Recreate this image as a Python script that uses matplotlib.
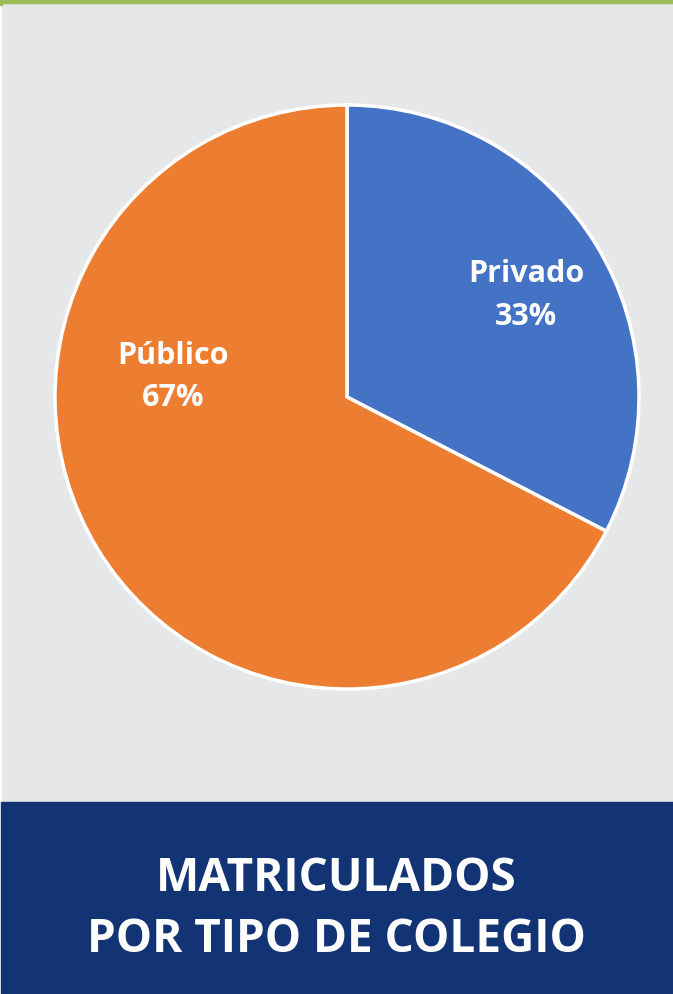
import numpy as np
import matplotlib.pyplot as plt
from matplotlib.patches import Rectangle

# datos
tipos = ['Privado', 'Público']
porcentajes = [32.6, 67.4]
colores = ['#4472C4', '#ED7D31']
titulo = 'MATRICULADOS\nPOR TIPO DE COLEGIO'

W, H = 673, 994
fig = plt.figure(figsize=(W / 100, H / 100), dpi=100)
fig.patch.set_facecolor('white')

# fondo gris, banda azul y linea verde
fig.patches.append(Rectangle((2 / W, (H - 802) / H), 1, (802 - 2) / H,
                             transform=fig.transFigure, color='#E6E7E9', zorder=0))
fig.patches.append(Rectangle((1 / W, 0), 1, (H - 802) / H,
                             transform=fig.transFigure, color='#133474', zorder=0))
fig.patches.append(Rectangle((0, 1 - 2.5 / H), 1, 2.5 / H,
                             transform=fig.transFigure, color='#9BBB59', zorder=1))
fig.patches.append(Rectangle((0, 1 - 5 / H), 2 / W, 5 / H,
                             transform=fig.transFigure, color='#9BBB59', zorder=1))

# pastel
cx, cy, r = 347, 397, 292
ax = fig.add_axes([(cx - r) / W, (H - cy - r) / H, 2 * r / W, 2 * r / H])
ax.set_zorder(5)
ax.set_facecolor('none')
wedges, _ = ax.pie(porcentajes, colors=colores, startangle=90, counterclock=False,
                   radius=1, wedgeprops=dict(edgecolor='white', linewidth=2.5))
ax.set_xlim(-1, 1)
ax.set_ylim(-1, 1)
ax.set_aspect('equal')
ax.axis('off')

# posicion de etiquetas (angulo, distancia)
pos_etiq = [(29.5, 0.705), (173.5, 0.60)]
for tipo, pct, (ang, d) in zip(tipos, porcentajes, pos_etiq):
    x = d * np.cos(np.radians(ang))
    y = d * np.sin(np.radians(ang))
    ax.text(x, y, f'{tipo}\n{round(pct)}%', ha='center', va='center',
            color='white', fontsize=22, fontweight='bold', family='Open Sans',
            linespacing=1.55)

fig.text(0.5, (H - 909) / H, titulo, ha='center', va='center', color='white',
         fontsize=33, fontweight='bold', family='Open Sans', linespacing=1.38,
         zorder=6)

fig.savefig('out.png', dpi=100)
